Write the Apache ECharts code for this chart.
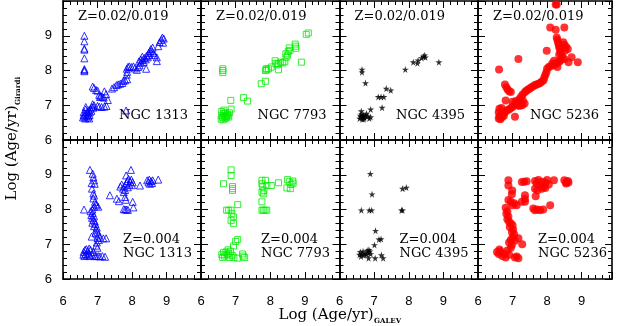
<!DOCTYPE html>
<html>
<head>
<meta charset="utf-8">
<script src="https://cdn.jsdelivr.net/npm/echarts@6/dist/echarts.min.js"></script>
<style>html,body{margin:0;padding:0;background:#fff;}#c{width:617px;height:326px;}</style>
</head>
<body>
<div id="c"></div>
<script>
// ---------- data ----------
const tickLabels = ['6', '7', '8', '9'];
const galaxies = ['NGC 1313', 'NGC 7793', 'NGC 4395', 'NGC 5236'];
const metallicities = ['Z=0.02/0.019', 'Z=0.004'];

const ngc1313_z02 = [[6.62,9.0],[6.62,8.84],[6.62,8.63],[6.62,8.6],[6.62,8.35],[6.62,8.04],[6.62,8.01],[6.62,7.98],
[6.58,6.65],[6.6,6.72],[6.6,6.8],[6.62,6.68],[6.64,6.62],[6.65,6.76],[6.66,6.88],[6.68,6.7],[6.7,6.64],[6.7,6.82],[6.72,6.76],[6.74,6.68],[6.75,6.86],[6.77,6.72],[6.78,6.8],[6.8,6.9],[6.82,6.84],[6.84,6.95],[6.86,7.03],[6.88,6.93],[6.9,7.0],[6.76,6.62],[6.66,6.95],
[6.86,7.54],[6.9,7.5],[6.96,7.44],[7.0,7.42],[7.05,7.3],[7.07,7.24],[7.1,7.26],[7.14,7.24],[7.18,7.22],[7.2,7.4],[7.25,7.32],[7.3,7.15],[7.05,6.96],[7.12,6.95],[7.2,6.96],[7.26,6.98],[7.0,6.98],[7.83,6.85],
[7.42,7.48],[7.48,7.52],[7.55,7.58],[7.6,7.6],[7.66,7.62],[7.72,7.64],[7.75,7.7],[7.8,7.72],[7.86,7.75],[7.85,7.88],[7.86,7.96],[7.85,8.05],[7.88,8.1],[7.92,8.12],[7.98,8.1],[8.04,8.12],[8.08,8.06],[8.14,8.02],[8.18,8.1],[8.22,8.15],[8.2,8.26],[8.26,8.22],[8.3,8.3],[8.34,8.25],[8.36,8.36],[8.4,8.32],[8.42,8.42],[8.46,8.38],[8.48,8.5],[8.5,8.45],[8.52,8.56],[8.55,8.62],[8.58,8.55],[8.6,8.66],[8.62,8.5],[8.41,8.05],[8.66,8.44],[8.72,8.38],[8.72,8.27],[8.76,8.7],[8.8,8.82],[8.85,8.88],[8.88,8.95],[8.92,8.92],[8.9,8.8],[8.3,8.4],[8.25,8.32]];

const ngc1313_z004 = [[6.78,9.14],[6.86,9.03],[6.88,8.93],[6.9,8.84],[6.83,8.76],[6.92,8.74],[6.84,8.6],[6.88,8.46],[6.9,8.4],[6.88,8.32],[6.93,8.22],[6.95,8.15],[6.98,8.12],[7.02,8.08],[6.9,8.08],[6.61,8.0],[6.85,8.0],[6.8,7.95],[6.86,7.9],[6.82,7.84],[6.9,7.8],[6.84,7.76],[6.88,7.7],[6.92,7.66],[6.85,7.62],[6.94,7.58],[6.9,7.52],[6.98,7.48],[6.96,7.42],[7.0,7.36],[6.94,7.32],[7.02,7.28],[6.83,7.22],[7.07,7.22],[7.0,7.18],[7.17,7.17],[7.25,7.17],[7.04,7.12],[6.98,7.05],[6.96,6.96],[7.0,6.9],
[6.59,6.7],[6.6,6.78],[6.62,6.66],[6.64,6.84],[6.66,6.72],[6.7,6.68],[6.72,6.8],[6.75,6.74],[6.78,6.66],[6.8,6.84],[6.84,6.7],[6.88,6.78],[6.92,6.66],[6.96,6.66],[7.02,6.66],[7.07,6.65],[7.14,6.66],[7.22,6.64],[6.68,6.86],[6.76,6.88],
[7.36,8.41],[7.56,8.31],[7.62,8.24],[7.66,8.66],[7.7,8.72],[7.74,8.6],[7.76,8.5],[7.78,8.68],[7.8,8.56],[7.83,8.98],[7.84,8.76],[7.86,8.82],[7.88,8.64],[7.9,8.88],[7.92,8.72],[7.95,8.8],[7.97,9.14],[7.98,8.86],[8.0,8.7],[8.02,8.78],[7.8,8.36],[7.82,8.28],[7.76,8.01],[7.8,8.0],[7.84,8.0],[7.88,7.99],[8.02,8.22],[8.04,8.06],[8.23,8.69],[8.44,8.84],[8.48,8.78],[8.5,8.86],[8.52,8.74],[8.55,8.82],[8.58,8.76],[8.6,8.84],[8.76,8.86]];

const ngc7793_z02 = [[6.63,8.05],[6.63,8.0],[6.63,7.94],
[6.58,6.6],[6.6,6.7],[6.6,6.82],[6.62,6.65],[6.64,6.58],[6.65,6.76],[6.68,6.68],[6.7,6.62],[6.72,6.7],[6.74,6.66],[6.76,6.74],[6.78,6.7],[6.8,6.66],[6.82,6.78],[6.7,6.78],[6.66,6.86],
[6.87,6.89],[6.86,7.14],[7.23,7.22],[7.34,7.12],[7.74,7.62],[7.86,7.69],[7.86,8.0],[7.88,8.05],[7.9,8.02],[7.95,8.05],[8.03,8.1],[8.14,8.28],[8.16,8.2],[8.2,8.16],[8.24,8.02],[8.24,8.2],[8.3,8.24],[8.36,8.22],[8.42,8.25],[8.45,8.48],[8.46,8.38],[8.5,8.44],[8.52,8.55],[8.55,8.65],[8.57,8.58],[8.72,8.76],[8.73,8.7],[8.74,8.64],[8.9,8.24],[9.04,9.04],[9.1,9.08]];

const ngc7793_z004 = [[6.87,9.14],[6.87,8.98],[6.65,8.74],[6.91,8.66],[6.91,8.6],[6.91,8.55],[6.74,7.98],[6.8,7.98],[6.87,7.98],[7.06,8.14],[6.89,7.88],[6.94,7.79],[6.87,7.68],[6.94,7.6],[7.06,7.14],[7.0,7.08],[6.94,6.95],
[6.6,6.7],[6.62,6.62],[6.65,6.76],[6.68,6.66],[6.72,6.78],[6.75,6.7],[6.8,6.74],[6.82,6.62],[6.85,6.8],[6.9,6.68],[6.95,6.62],[7.05,6.6],[7.2,6.72],[7.22,6.66],[7.26,6.62],[6.78,6.84],
[7.76,8.84],[7.76,8.74],[7.86,8.84],[7.78,8.65],[7.82,8.55],[7.8,8.45],[7.76,8.5],[7.9,8.69],[8.03,8.69],[8.24,8.77],[7.76,8.22],[7.76,7.98],[7.8,7.98],[7.85,7.98],[7.9,7.98],
[8.5,8.86],[8.55,8.8],[8.6,8.72],[8.65,8.82],[8.48,8.62],[8.58,8.6],[8.66,8.76]];

const ngc4395_z02 = [[6.65,8.03],[6.65,7.95],[6.75,7.64],[6.63,6.83],[6.9,6.88],
[6.58,6.62],[6.6,6.7],[6.62,6.66],[6.64,6.74],[6.66,6.6],[6.68,6.68],[6.7,6.72],[6.72,6.64],[6.75,6.7],[6.78,6.76],[6.82,6.68],[6.86,6.62],[6.9,6.66],[6.7,6.6],
[7.12,7.24],[7.2,7.24],[7.28,7.24],[7.35,7.48],[7.48,7.43],[7.23,6.93],[7.9,8.03],[8.13,8.24],[8.25,8.21],[8.27,8.29],[8.37,8.36],[8.42,8.4],[8.46,8.44],[8.48,8.38],[8.87,8.24]];

const ngc4395_z004 = [[6.89,9.03],[6.94,8.44],[6.63,7.98],[6.86,7.98],[6.93,7.98],[7.04,7.39],[7.14,7.14],[7.2,7.15],[7.01,6.98],[6.85,6.84],
[6.58,6.7],[6.6,6.78],[6.62,6.65],[6.65,6.72],[6.68,6.8],[6.7,6.68],[6.74,6.74],[6.78,6.7],[6.8,6.82],[6.84,6.76],[6.88,6.8],[6.9,6.72],
[6.84,6.6],[7.03,6.6],[7.21,6.69],[7.26,6.6],[7.82,8.6],[7.93,8.63],[7.79,7.98],[7.82,7.98]];

const ngc5236_z02 = [[8.28,9.9],[8.25,9.9],[8.09,9.24],[8.25,9.17],[8.5,9.24],
[8.28,8.95],[8.3,8.88],[8.32,8.8],[8.34,8.72],[8.36,8.64],[8.38,8.57],[8.4,8.5],[8.35,8.45],
[8.47,8.81],[8.5,8.74],[8.55,8.68],[8.6,8.62],[8.52,8.57],[8.5,8.33],[7.99,8.57],[7.17,8.33],[8.71,8.38],[8.89,8.24],[8.62,8.24],
[8.44,8.4],[8.4,8.3],[8.36,8.26],[8.3,8.22],[8.25,8.2],[8.2,8.15],[8.15,8.2],[8.1,8.12],[8.05,8.1],[8.3,8.1],[8.2,8.28],[8.0,8.05],[7.98,7.95],[7.95,7.88],[7.92,7.8],[7.9,7.72],[7.85,7.68],[7.8,7.64],[7.75,7.62],[7.7,7.6],[7.65,7.58],[7.6,7.55],[7.55,7.52],[7.5,7.48],[7.45,7.45],[7.4,7.42],[7.36,7.38],[7.3,7.32],[7.25,7.25],[7.2,7.18],[7.3,7.14],[7.35,7.05],[7.28,7.0],[7.2,6.98],[7.12,7.06],[7.05,7.02],[7.0,6.95],[6.95,6.92],[6.9,6.88],[6.85,6.86],[6.8,6.82],[6.75,6.78],[6.7,6.75],[6.65,6.72],[6.62,6.68],[6.6,6.62],[6.65,6.6],[6.7,6.66],[6.75,6.7],[6.6,6.8],[6.62,6.9],[6.68,6.92],[7.0,7.1],[7.1,7.12],[7.15,7.0],
[6.78,7.6],[6.82,7.52],[6.86,7.45],[6.9,7.4],[6.95,7.38],[6.61,8.03],[6.8,7.14],[7.07,6.67],[7.2,7.1],[7.25,7.05]];

const ngc5236_z004 = [[7.65,8.82],[7.7,8.75],[7.75,8.85],[7.8,8.7],[7.85,8.8],[7.9,8.65],[7.95,8.78],[8.0,8.85],[8.05,8.72],[7.65,8.6],[7.72,8.55],[7.85,8.6],[7.95,8.62],[8.2,8.84],[8.5,8.84],[8.55,8.78],[8.6,8.82],[8.55,8.75],[8.62,8.78],
[6.88,8.84],[6.88,8.69],[7.27,8.79],[7.34,8.8],[7.41,8.81],[6.99,8.55],[6.98,8.44],[7.36,8.41],[7.36,8.3],[7.36,8.22],[7.27,8.22],[7.67,8.38],
[6.88,8.27],[6.95,8.22],[7.05,8.18],[7.12,8.12],[7.0,8.12],
[7.6,8.03],[7.65,7.98],[7.72,8.0],[7.8,7.98],[7.89,8.0],[8.09,8.12],
[6.8,8.05],[6.85,7.95],[6.82,7.88],[6.88,7.8],[6.85,7.72],[6.9,7.65],[6.95,7.6],[7.0,7.55],[6.92,7.5],[7.02,7.42],[6.98,7.35],[7.05,7.28],[7.0,7.2],[6.95,7.12],[7.07,7.1],[6.9,7.05],[6.98,6.98],[7.17,7.17],[7.28,7.0],
[6.55,6.78],[6.6,6.72],[6.65,6.8],[6.7,6.66],[6.75,6.74],[6.8,6.62],[6.85,6.82],[6.9,6.7],[6.95,6.9],[6.62,6.85],[7.07,6.62],[7.12,6.65],[7.17,6.6]];

// ---------- layout ----------
const colLeft = [63, 201, 339.5, 478];
const colWidth = [138, 138.5, 138.5, 134];
const colMax = [10, 10, 10, 9.88];
const rowTop = [1, 140];
const rowHeight = [139, 139];

const panelData = [
  [ngc1313_z02, ngc7793_z02, ngc4395_z02, ngc5236_z02],
  [ngc1313_z004, ngc7793_z004, ngc4395_z004, ngc5236_z004]
];
const STAR = 'path://M50,0 L61,35 L98,35 L68,57 L79,91 L50,70 L21,91 L32,57 L2,35 L39,35 Z';
const markerStyles = [
  {symbol: 'triangle', symbolSize: 7, itemStyle: {color: 'rgba(0,0,0,0)', borderColor: '#0000ff', borderWidth: 1}},
  {symbol: 'rect', symbolSize: 6, itemStyle: {color: 'rgba(0,0,0,0)', borderColor: '#00ee00', borderWidth: 1}},
  {symbol: STAR, symbolSize: 7, itemStyle: {color: '#000'}},
  {symbol: 'circle', symbolSize: 8, itemStyle: {color: '#ff0000'}}
];

const labelFmt = v => tickLabels.includes(String(v)) ? String(v) : '';
const tickFont = {color: '#000', fontFamily: '"Liberation Sans", Arial, sans-serif', fontSize: 13};

function makeAxis(kind, g, position, max, showLabel) {
  return {
    type: 'value', gridIndex: g, position: position,
    min: 6, max: max, interval: 1,
    axisLine: {show: true, onZero: false, lineStyle: {color: '#000', width: 1.6}},
    axisTick: {show: true, inside: true, length: 7, lineStyle: {color: '#000', width: 1}},
    minorTick: {show: true, splitNumber: 5, length: 4, lineStyle: {color: '#000', width: 1}},
    splitLine: {show: false}, minorSplitLine: {show: false},
    axisLabel: Object.assign({show: showLabel, formatter: labelFmt, showMaxLabel: false, showMinLabel: true,
      margin: kind === 'x' ? 16 : 11}, tickFont)
  };
}

const grids = [], xAxes = [], yAxes = [], series = [], graphics = [];
for (let r = 0; r < 2; r++) {
  for (let c = 0; c < 4; c++) {
    const g = r * 4 + c;
    grids.push({left: colLeft[c], top: rowTop[r], width: colWidth[c], height: rowHeight[r], containLabel: false});
    xAxes.push(makeAxis('x', g, 'bottom', colMax[c], r === 1));
    xAxes.push(makeAxis('x', g, 'top', colMax[c], false));
    yAxes.push(makeAxis('y', g, 'left', 10, c === 0));
    yAxes.push(makeAxis('y', g, 'right', 10, false));
    series.push(Object.assign({
      type: 'scatter', xAxisIndex: 2 * g, yAxisIndex: 2 * g,
      data: panelData[r][c], silent: true, animation: false, clip: false
    }, markerStyles[c]));
  }
}

const serif = '"DejaVu Serif", "Liberation Serif", serif';
for (let c = 0; c < 4; c++) {
  const L = colLeft[c], R = colLeft[c] + colWidth[c];
  graphics.push({type: 'text', x: L + 15, y: 17, style: {text: metallicities[0], font: '13px ' + serif, fill: '#000', align: 'left', verticalAlign: 'middle', textAlign: 'left', textVerticalAlign: 'middle'}});
  graphics.push({type: 'text', x: R - 13, y: 116, style: {text: galaxies[c], font: '13px ' + serif, fill: '#000', align: 'right', verticalAlign: 'middle', textAlign: 'right', textVerticalAlign: 'middle'}});
  graphics.push({type: 'text', x: L + 60, y: 240, style: {text: metallicities[1], font: '13px ' + serif, fill: '#000', align: 'left', verticalAlign: 'middle', textAlign: 'left', textVerticalAlign: 'middle'}});
  graphics.push({type: 'text', x: L + 60, y: 254, style: {text: galaxies[c], font: '13px ' + serif, fill: '#000', align: 'left', verticalAlign: 'middle', textAlign: 'left', textVerticalAlign: 'middle'}});
}
// axis titles
graphics.push({type: 'text', x: 326, y: 315, style: {text: 'Log (Age/yr)', font: '15px ' + serif, fill: '#000', align: 'center', verticalAlign: 'middle', textAlign: 'center', textVerticalAlign: 'middle'}});
graphics.push({type: 'text', x: 374, y: 321, style: {text: 'GALEV', font: 'bold 7px ' + serif, fill: '#000', align: 'left', verticalAlign: 'middle', textAlign: 'left', textVerticalAlign: 'middle'}});
graphics.push({type: 'text', x: 12, y: 153, rotation: Math.PI / 2, style: {text: 'Log (Age/yr)', font: '15px ' + serif, fill: '#000', align: 'center', verticalAlign: 'middle', textAlign: 'center', textVerticalAlign: 'middle'}});
graphics.push({type: 'text', x: 18, y: 105, rotation: Math.PI / 2, style: {text: 'Girardi', font: 'bold 7px ' + serif, fill: '#000', align: 'left', verticalAlign: 'middle', textAlign: 'left', textVerticalAlign: 'middle'}});

const chart = echarts.init(document.getElementById('c'), null, {renderer: 'canvas'});
chart.setOption({
  animation: false,
  backgroundColor: '#fff',
  grid: grids, xAxis: xAxes, yAxis: yAxes, series: series,
  graphic: graphics
});
</script>
</body>
</html>
